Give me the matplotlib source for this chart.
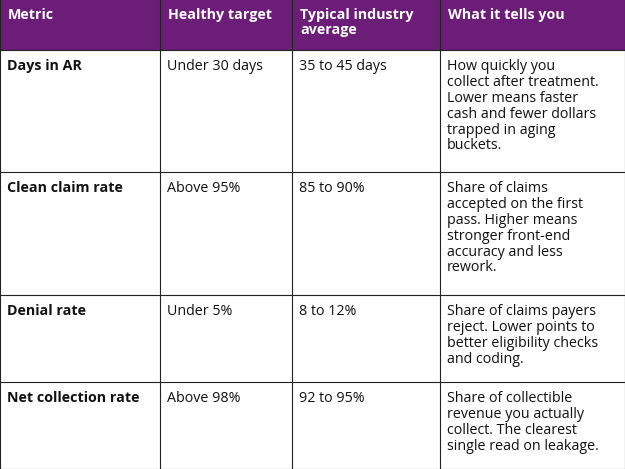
import matplotlib.pyplot as plt
from matplotlib.patches import Rectangle

plt.rcParams["font.family"] = ["Open Sans", "DejaVu Sans"]

headers = ["Metric", "Healthy target", "Typical industry\naverage", "What it tells you"]
metrics = ["Days in AR", "Clean claim rate", "Denial rate", "Net collection rate"]
targets = ["Under 30 days", "Above 95%", "Under 5%", "Above 98%"]
averages = ["35 to 45 days", "85 to 90%", "8 to 12%", "92 to 95%"]
meanings = [
    "How quickly you\ncollect after treatment.\nLower means faster\ncash and fewer dollars\ntrapped in aging\nbuckets.",
    "Share of claims\naccepted on the first\npass. Higher means\nstronger front-end\naccuracy and less\nrework.",
    "Share of claims payers\nreject. Lower points to\nbetter eligibility checks\nand coding.",
    "Share of collectible\nrevenue you actually\ncollect. The clearest\nsingle read on leakage.",
]

col_x = [0, 160, 292, 440, 625]  # column edges in pixels
row_y = [0, 50, 172, 295, 382, 469]  # row edges in pixels

fig = plt.figure(figsize=(6.25, 4.69), dpi=100)
ax = fig.add_axes([0, 0, 1, 1])
ax.set_xlim(0, 625)
ax.set_ylim(469, 0)
ax.axis("off")

# Header band
ax.add_patch(Rectangle((0, 0), 625, row_y[1], facecolor="#6C1D78", edgecolor="none"))
for j, h in enumerate(headers):
    ax.text(col_x[j] + 8, 8, h, color="white", fontsize=10.3, fontweight="bold",
            va="top", ha="left", linespacing=1.05)

# Body rows
for i in range(len(metrics)):
    top = row_y[i + 1]
    cells = [metrics[i], targets[i], averages[i], meanings[i]]
    for j, c in enumerate(cells):
        ax.text(col_x[j] + 7, top + 9, c, color="#111111", fontsize=10.3,
                fontweight="bold" if j == 0 else "normal",
                va="top", ha="left", linespacing=1.08)

# Grid lines
for y in row_y[1:]:
    ax.plot([0, 625], [y, y], color="#222222", linewidth=0.8)
for x in col_x:
    ax.plot([x, x], [0, 469], color="#222222", linewidth=0.8)

fig.savefig("out.png", dpi=100)
